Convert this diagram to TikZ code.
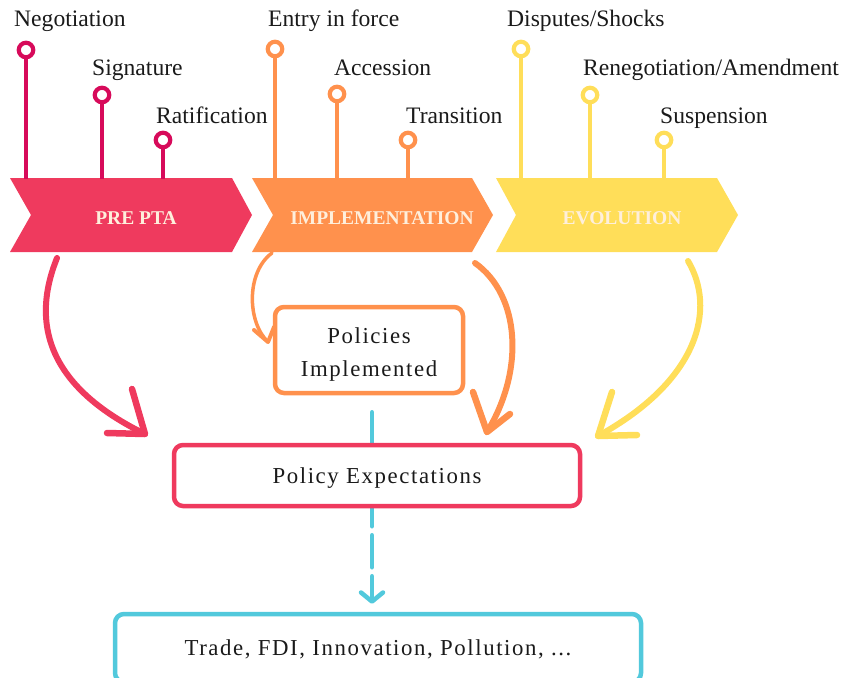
\documentclass[tikz,border=0pt]{standalone}
\usepackage{fontspec}
\setmainfont{Liberation Serif}
\newfontfamily\boxfont[LetterSpace=7]{Liberation Serif}
\usetikzlibrary{arrows.meta,calc}
\definecolor{pred}{HTML}{EF3A5E}
\definecolor{pdark}{HTML}{D70A5A}
\definecolor{porange}{HTML}{FF914D}
\definecolor{pyellow}{HTML}{FFDE59}
\definecolor{pteal}{HTML}{52C9DC}
\definecolor{pcream}{HTML}{FEEFDC}
\definecolor{ptext}{HTML}{1A1A1A}
\begin{document}
\begin{tikzpicture}[x=1pt,y=-1pt,
  pinring/.style={circle,draw,fill=white,line width=4.2pt,minimum size=14.5pt,inner sep=0pt},
  pinstem/.style={line width=4.5pt},
  steplabel/.style={anchor=base west,inner sep=0pt,text=ptext,font=\fontsize{23.6}{27}\selectfont},
  chevtext/.style={text=pcream,font=\fontsize{19.5}{22}\selectfont\bfseries,inner sep=0pt},
  rbox/.style={draw,fill=white,line width=4.5pt,rounded corners=9pt,text=ptext,
    font=\boxfont\fontsize{22.8}{33}\selectfont,align=center,inner sep=0pt},
  onebox/.style={rbox,text height=15.5pt,text depth=0pt},
  hcurve/.style={line width=6pt,line cap=round},
  harms/.style={line width=6.5pt,line cap=round,line join=round},
]
\useasboundingbox (0,0) rectangle (842,677);
\clip (0,0) rectangle (842,677);

% chevrons
\fill[pred] (10,178) -- (232,178) -- (252,215) -- (232,252) -- (10,252) -- (31,215) -- cycle;
\fill[porange] (252,178) -- (472,178) -- (493,215) -- (472,252) -- (252,252) -- (273,215) -- cycle;
\fill[pyellow] (496,178) -- (717,178) -- (738,215) -- (717,252) -- (496,252) -- (516,215) -- cycle;
\node[chevtext] (pre) at (136,218) {PRE PTA};
\node[chevtext] (impl) at (382,218) {IMPLEMENTATION};
\node[chevtext] (evo) at (622,218) {EVOLUTION};

% pins
\coordinate (b1) at (26,179); \coordinate (b2) at (102,179); \coordinate (b3) at (163,179);
\coordinate (b4) at (275,179); \coordinate (b5) at (337,179); \coordinate (b6) at (408,179);
\coordinate (b7) at (521,179); \coordinate (b8) at (590,179); \coordinate (b9) at (664,179);
\node[pinring,draw=pdark] (c1) at (26,50) {};
\node[pinring,draw=pdark] (c2) at (102,95) {};
\node[pinring,draw=pdark] (c3) at (163,140) {};
\node[pinring,draw=porange] (c4) at (275,49) {};
\node[pinring,draw=porange] (c5) at (337,94) {};
\node[pinring,draw=porange] (c6) at (408,140) {};
\node[pinring,draw=pyellow] (c7) at (521,49) {};
\node[pinring,draw=pyellow] (c8) at (590,95) {};
\node[pinring,draw=pyellow] (c9) at (664,140) {};
\draw[pinstem,pdark] (c1) -- (b1);
\draw[pinstem,pdark] (c2) -- (b2);
\draw[pinstem,pdark] (c3) -- (b3);
\draw[pinstem,porange] (c4) -- (b4);
\draw[pinstem,porange] (c5) -- (b5);
\draw[pinstem,porange] (c6) -- (b6);
\draw[pinstem,pyellow] (c7) -- (b7);
\draw[pinstem,pyellow] (c8) -- (b8);
\draw[pinstem,pyellow] (c9) -- (b9);

\node[steplabel] (l1) at (14,27) {Negotiation};
\node[steplabel] (l2) at (92,75) {Signature};
\node[steplabel] (l3) at (156,123) {Ratification};
\node[steplabel] (l4) at (268,27) {Entry in force};
\node[steplabel] (l5) at (334,75) {Accession};
\node[steplabel] (l6) at (406,123) {Transition};
\node[steplabel] (l7) at (507,27) {Disputes/Shocks};
\node[steplabel] (l8) at (583,75) {Renegotiation/Amendment};
\node[steplabel] (l9) at (660,123) {Suspension};

% boxes
\node[rbox,draw=porange,minimum width=188pt,minimum height=86pt] (pi) at (369,350) {\mbox{}\\[-9pt]Policies\\Implemented};
\coordinate (t0) at ([xshift=3pt,yshift=-17pt]pi.south);
\node[onebox,draw=pteal,minimum width=526pt,minimum height=68pt] (tr) at (378,648) {Trade, FDI, Innovation, Pollution, ...};
\path (t0 |- tr.north) ++(0,-8) coordinate (t1);
\draw[pteal,line width=4.5pt,line cap=round,dash pattern=on 32pt off 9pt,
  -{Straight Barb[length=9pt,width=22pt,line cap=round,line join=round]}] (t0) -- (t1);
\node[onebox,draw=pred,minimum width=406pt,minimum height=61pt] (pe) at (377,475.5) {Policy Expectations};

% curved arrows
\coordinate (r0) at (57,258); \coordinate (r1) at (145,434);
\coordinate (r1a) at (132,389); \coordinate (r1b) at (107,433);
\draw[hcurve,pred] (r0) .. controls (28,330) and (55,390) .. (r1);
\draw[harms,pred] (r1a) -- (r1) -- (r1b);

\coordinate (o0) at (272,253); \coordinate (o1) at (268,342);
\coordinate (o1a) at (254,330); \coordinate (o1b) at (274,327);
\draw[porange,line width=3.5pt,line cap=round] (o0) .. controls (246,272) and (247,322) .. (o1);
\draw[porange,line width=4pt,line cap=round,line join=round] (o1a) -- (o1) -- (o1b);

\coordinate (q0) at (475,263); \coordinate (q1) at (487,432);
\coordinate (q1a) at (473,392); \coordinate (q1b) at (510,414);
\draw[hcurve,porange] (q0) .. controls (520,295) and (525,370) .. (q1);
\draw[harms,porange] (q1a) -- (q1) -- (q1b);

\coordinate (y0) at (688,261); \coordinate (y1) at (598,436);
\coordinate (y1a) at (612,392); \coordinate (y1b) at (637,435);
\draw[hcurve,pyellow] (y0) .. controls (716,308) and (700,380) .. (y1);
\draw[harms,pyellow] (y1a) -- (y1) -- (y1b);
\end{tikzpicture}
\end{document}
